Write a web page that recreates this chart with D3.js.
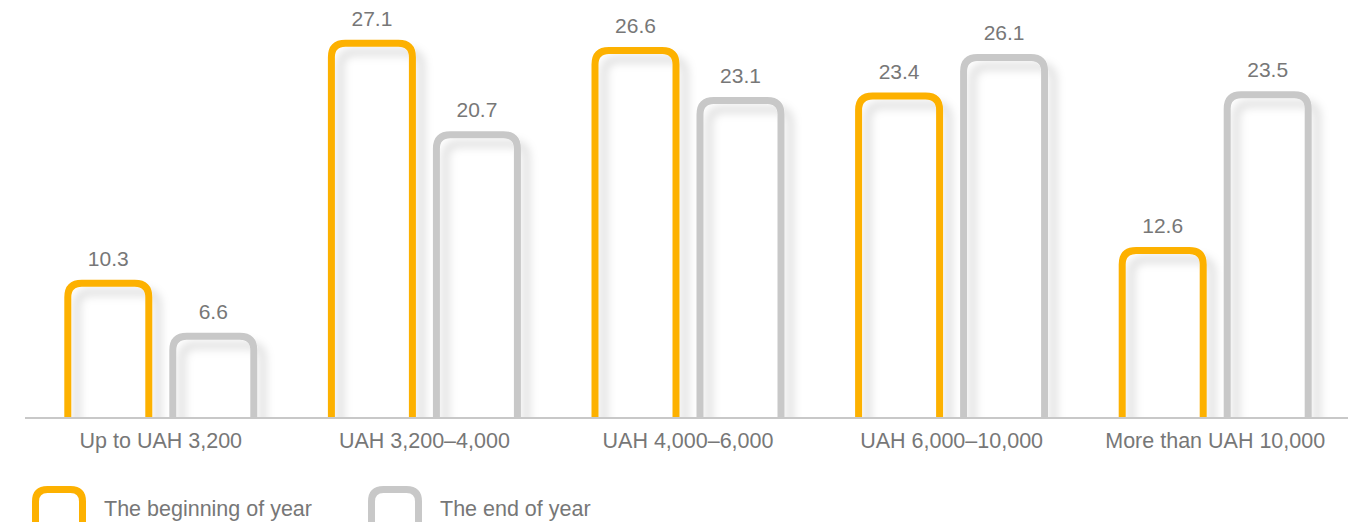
<!DOCTYPE html>
<html><head><meta charset="utf-8">
<script src="https://cdn.jsdelivr.net/npm/d3@7"></script>
<style>html,body{margin:0;padding:0;background:#fff;overflow:hidden}</style>
</head><body>
<svg id="chart" width="1363" height="522"></svg>
<script>
const categories = ["Up to UAH 3,200", "UAH 3,200\u20134,000", "UAH 4,000\u20136,000", "UAH 6,000\u201310,000", "More than UAH 10,000"];
const seriesNames = ["The beginning of year", "The end of year"];
const beginning = [10.3, 27.1, 26.6, 23.4, 12.6];
const endYear = [6.6, 20.7, 23.1, 26.1, 23.5];
const colors = ["#FDB100", "#C8C8C8"];

const svg = d3.select("#chart");
const font = "'Liberation Sans', Arial, sans-serif";
const baseline = 418;
const sw = 7;

const x = d3.scaleBand().domain(categories).range([29, 1347]);
const xi = d3.scaleBand().domain(seriesNames).range([-105, 105]);
const y = d3.scaleLinear().domain([0, 30]).range([427, 427 - 30 * 14.29]);

const defs = svg.append("defs");
const f = defs.append("filter").attr("id", "sh").attr("x", "-30%").attr("y", "-30%").attr("width", "160%").attr("height", "160%");
f.append("feDropShadow").attr("dx", 9).attr("dy", 9).attr("stdDeviation", 4)
  .attr("flood-color", "#000").attr("flood-opacity", 0.13);
defs.append("clipPath").attr("id", "clip").append("rect")
  .attr("x", 0).attr("y", 0).attr("width", 1363).attr("height", baseline);

const data = [];
categories.forEach((c, i) => {
  data.push({cat: c, s: seriesNames[0], v: beginning[i], col: colors[0]});
  data.push({cat: c, s: seriesNames[1], v: endYear[i], col: colors[1]});
});

function openRect(xl, xr, top, bottom, r) {
  return `M${xl},${bottom} L${xl},${top + r} Q${xl},${top} ${xl + r},${top} L${xr - r},${top} Q${xr},${top} ${xr},${top + r} L${xr},${bottom}`;
}

const barOuter = 88;
const g = svg.append("g").attr("clip-path", "url(#clip)");
data.forEach(d => {
  const cx = x(d.cat) + x.bandwidth() / 2 + xi(d.s) + xi.bandwidth() / 2;
  const top = y(d.v) + sw / 2;
  const xl = cx - barOuter / 2 + sw / 2, xr = cx + barOuter / 2 - sw / 2;
  g.append("path").attr("d", openRect(xl, xr, top, baseline + 10, 14))
    .attr("fill", "none").attr("stroke", d.col).attr("stroke-width", sw)
    .attr("filter", "url(#sh)");
  svg.append("text").attr("x", cx).attr("y", y(d.v) - 14)
    .attr("text-anchor", "middle").attr("font-family", font).attr("font-size", 21)
    .attr("fill", "#777").text(d.v.toFixed(1));
});

const axis = d3.axisBottom(x).tickSize(0).tickPadding(15);
const ax = svg.append("g").attr("transform", `translate(0,${baseline})`).call(axis);
ax.select(".domain").attr("stroke", "#C8C8C8").attr("stroke-width", 2)
  .attr("d", "M25,0H1348");
ax.selectAll("text").attr("font-family", font).attr("font-size", 21.5).attr("fill", "#777");

// legend
const legX = [35.5, 371.5];
seriesNames.forEach((s, i) => {
  svg.append("path").attr("d", openRect(legX[i], legX[i] + 47, 489.5, 530, 12))
    .attr("fill", "none").attr("stroke", colors[i]).attr("stroke-width", sw);
  svg.append("text").attr("x", legX[i] + 68.5).attr("y", 516)
    .attr("font-family", font).attr("font-size", 21.5).attr("fill", "#777").text(s);
});
</script>
</body></html>
